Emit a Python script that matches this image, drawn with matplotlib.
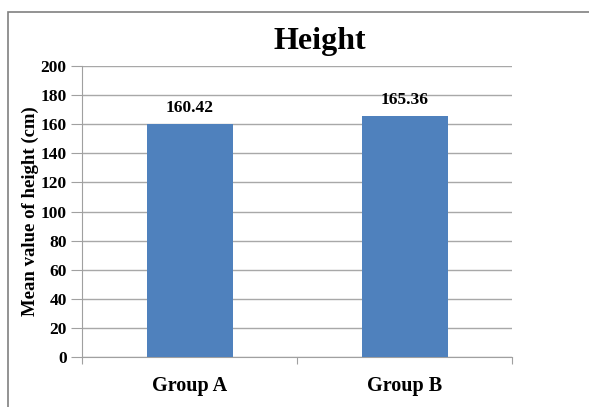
import matplotlib
matplotlib.use("Agg")
import matplotlib.pyplot as plt
from matplotlib.patches import Rectangle

categories = ["Group A", "Group B"]
values = [160.42, 165.36]
yticks = [0, 20, 40, 60, 80, 100, 120, 140, 160, 180, 200]

plt.rcParams['font.family'] = ['Liberation Serif', 'DejaVu Serif']
plt.rcParams['font.weight'] = 'bold'

fig = plt.figure(figsize=(5.89, 4.07), dpi=100)
fig.patches.append(Rectangle((8/589, -0.05), 1.2, 1 - 12/407 + 0.05, transform=fig.transFigure,
                             fill=False, edgecolor='#808080', linewidth=1.2))

ax = fig.add_axes([82/589, 1 - 357/407, 430/589, 291/407])
x = [1, 2]
bars = ax.bar(x, values, width=0.4, color='#4f81bd', zorder=3)
for xi, v in zip(x, values):
    ax.text(xi, v + 5.5, f"{v:.2f}", ha='center', va='bottom', fontsize=12.5, fontweight='bold')

ax.set_xlim(0.5, 2.5)
ax.set_ylim(0, 200)
ax.set_yticks(yticks)
ax.set_yticklabels([str(t) for t in yticks], fontsize=12.5, fontweight='bold')
ax.set_xticks([0.5, 1.5, 2.5])
ax.set_xticklabels([])
ax.tick_params(axis='x', length=5, color='#a0a0a0', direction='out')
ax.tick_params(axis='y', length=8, color='#a0a0a0', direction='out', pad=3)
for xi, c in zip(x, categories):
    ax.text(xi, -20, c, ha='center', va='center', fontsize=14.5, fontweight='bold',
            transform=ax.transData)

ax.yaxis.grid(True, color='#a8a8a8', linewidth=1, zorder=0)
ax.spines['top'].set_visible(False)
ax.spines['right'].set_visible(False)
ax.spines['left'].set_color('#a0a0a0')
ax.spines['bottom'].set_color('#a0a0a0')

ax.set_ylabel("Mean value of height (cm)", fontsize=13.5, fontweight='bold', labelpad=1)
fig.text(320/589, 1 - 41/407, "Height", ha='center', va='center', fontsize=23, fontweight='bold')

fig.savefig("out.png", dpi=100)
